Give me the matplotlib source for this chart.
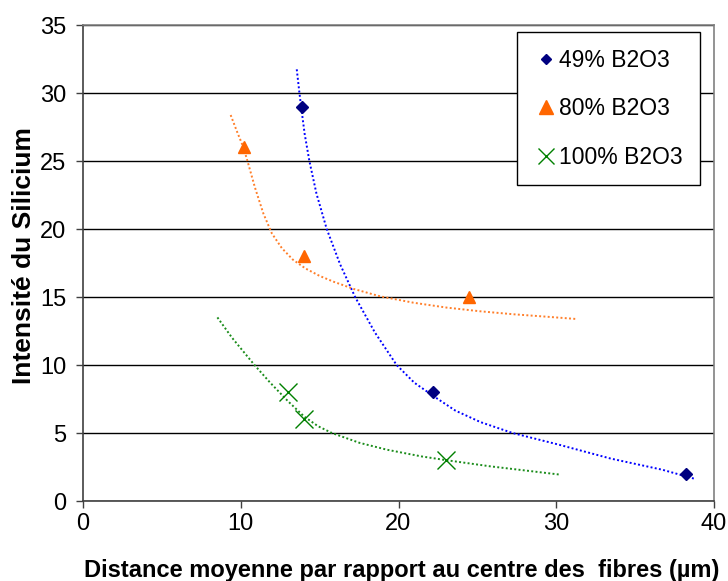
import matplotlib
matplotlib.use("Agg")
import matplotlib.pyplot as plt
from matplotlib.lines import Line2D

plt.rcParams['font.family'] = ['Liberation Sans', 'DejaVu Sans']

# Measured data points
x_49 = [13.9, 22.2, 38.2]
y_49 = [29, 8, 2]
x_80 = [10.2, 14.0, 24.5]
y_80 = [26, 18, 15]
x_100 = [13.0, 14.0, 23.0]
y_100 = [8, 6, 3]

# Trendlines
trend_49_x = [13.55, 13.72, 13.87, 14.05, 14.35, 14.8, 15.45, 16.3, 17.25, 18.5, 19.88,
              21.0, 22.3, 23.6, 25.2, 27.23, 30.17, 33.45, 36.72, 38.75]
trend_49_y = [31.74, 30.0, 28.6, 27.0, 25.0, 22.6, 20.0, 17.4, 15.0, 12.4, 10.0,
              8.7, 7.65, 6.65, 5.8, 5.0, 4.14, 3.12, 2.30, 1.64]

trend_80_x = [9.36, 9.75, 10.17, 10.5, 10.9, 11.43, 11.97, 12.6, 13.3, 14.1, 15.0, 15.87,
              17.14, 18.83, 20.95, 23.06, 25.17, 27.29, 29.4, 31.31]
trend_80_y = [28.38, 27.2, 26.0, 24.7, 23.05, 21.15, 19.68, 18.6, 17.75, 17.1, 16.55, 16.13,
              15.6, 15.05, 14.58, 14.22, 13.95, 13.73, 13.55, 13.38]

trend_100_x = [8.52, 9.45, 10.87, 11.85, 13.0, 14.03, 14.9, 15.78, 17.52, 19.27, 21.45, 22.98,
               25.81, 27.99, 30.24]
trend_100_y = [13.5, 12.0, 10.0, 8.72, 7.33, 6.2, 5.5, 5.0, 4.28, 3.77, 3.28, 3.01,
               2.55, 2.25, 1.94]

labels = ['49% B2O3', '80% B2O3', '100% B2O3']
x_ticks = [0, 10, 20, 30, 40]
y_ticks = [0, 5, 10, 15, 20, 25, 30, 35]

W, H = 728, 581
fig = plt.figure(figsize=(W / 100, H / 100), dpi=100)
ax = fig.add_axes([83 / W, 1 - 501 / H, (714 - 83) / W, (501 - 25) / H])

c_blue_m = '#000080'
c_orange = '#FF6600'
c_green = '#008000'

dot = (0, (1, 1.2))
ax.plot(trend_49_x, trend_49_y, color='#0000FF', linestyle=dot, linewidth=1.4, zorder=3)
ax.plot(trend_80_x, trend_80_y, color='#FF7F2A', linestyle=dot, linewidth=1.4, zorder=3)
ax.plot(trend_100_x, trend_100_y, color='#1A8C1A', linestyle=dot, linewidth=1.4, zorder=3)

ax.plot(x_49, y_49, linestyle='none', marker='D', markersize=6.2, color=c_blue_m, zorder=4)
ax.plot(x_80, y_80, linestyle='none', marker='^', markersize=9, color=c_orange, zorder=4)
ax.plot(x_100, y_100, linestyle='none', marker='x', markersize=12.5, markeredgewidth=1.0,
        color=c_green, zorder=4)

ax.set_xlim(0, 40)
ax.set_ylim(0, 35)
ax.set_xticks(x_ticks)
ax.set_yticks(y_ticks)
ax.yaxis.grid(True, color='black', linewidth=1.0)
ax.set_axisbelow(True)

for side in ['top', 'right']:
    ax.spines[side].set_color('#808080')
    ax.spines[side].set_linewidth(1.2)
for side in ['left', 'bottom']:
    ax.spines[side].set_color('#404040')
    ax.spines[side].set_linewidth(1.2)

ax.tick_params(axis='both', direction='out', length=5, width=1.0, color='#404040',
               labelsize=17)
ax.tick_params(axis='x', pad=4)
ax.tick_params(axis='y', pad=7)

fig.text(402 / W, 1 - 576.7 / H, 'Distance moyenne par rapport au centre des  fibres (µm)',
         fontsize=17, fontweight='bold', ha='center', va='baseline')
fig.text(24 / W, 1 - 256 / H, 'Intensité du Silicium', fontsize=19, fontweight='bold',
         rotation=90, ha='center', va='center')

handles = [
    Line2D([], [], linestyle='none', marker='D', markersize=5.5, color=c_blue_m),
    Line2D([], [], linestyle='none', marker='^', markersize=9.5, color=c_orange),
    Line2D([], [], linestyle='none', marker='x', markersize=11.5, markeredgewidth=1.0,
           color=c_green),
]
leg = ax.legend(handles, labels, loc='upper left', bbox_to_anchor=(517 / W, 1 - 32 / H),
                bbox_transform=fig.transFigure, fontsize=16.5, frameon=True, fancybox=False,
                edgecolor='black', framealpha=1, labelspacing=1.11, handlelength=1.1,
                handletextpad=0.02, borderpad=0.73, borderaxespad=0)
leg.get_frame().set_linewidth(1.0)

fig.savefig('out.png', dpi=100)
